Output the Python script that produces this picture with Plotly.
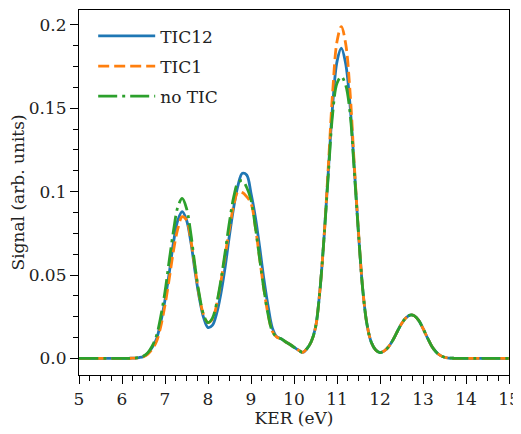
import plotly.graph_objects as go

# KER axis sample points (eV)
kev = [5.0, 6.0, 6.1, 6.2, 6.3, 6.4, 6.5, 6.6, 6.7, 6.8, 6.9,
       7.0, 7.1, 7.2, 7.3, 7.4, 7.5, 7.6, 7.7, 7.8, 7.9,
       8.0, 8.1, 8.2, 8.3, 8.4, 8.5, 8.6, 8.7, 8.8, 8.9,
       9.0, 9.1, 9.2, 9.3, 9.4, 9.5, 9.6, 9.7, 9.8, 9.9,
       10.0, 10.1, 10.2, 10.3, 10.4, 10.5, 10.6, 10.7, 10.8, 10.9,
       11.0, 11.1, 11.2, 11.3, 11.4, 11.5, 11.6, 11.7, 11.8, 11.9,
       12.0, 12.1, 12.2, 12.3, 12.4, 12.5, 12.6, 12.7, 12.8, 12.9,
       13.0, 13.1, 13.2, 13.3, 13.4, 13.5, 13.6, 13.7, 13.8, 14.0, 15.0]

tic12 = [0.0, 0.0, 0.0, 0.0001, 0.0002, 0.0005, 0.0012, 0.0030, 0.0065, 0.0115, 0.0215,
         0.035, 0.0515, 0.070, 0.083, 0.088, 0.083, 0.070, 0.052, 0.036, 0.0243,
         0.0185, 0.0198, 0.0269, 0.039, 0.055, 0.074, 0.091, 0.104, 0.111, 0.110,
         0.099, 0.085, 0.067, 0.0475, 0.031, 0.018, 0.013, 0.0118, 0.0100, 0.0085,
         0.0067, 0.0050, 0.0036, 0.0058, 0.0100, 0.0185, 0.040, 0.073, 0.113, 0.152,
         0.178, 0.186, 0.177, 0.153, 0.115, 0.075, 0.041, 0.020, 0.0095, 0.0050,
         0.0035, 0.0045, 0.0070, 0.0110, 0.0160, 0.0208, 0.0242, 0.0260, 0.0255, 0.0228,
         0.0180, 0.0125, 0.0075, 0.0040, 0.0018, 0.0007, 0.0002, 0.0001, 0.0, 0.0, 0.0]

tic1 = [0.0, 0.0, 0.0, 0.0001, 0.0002, 0.0004, 0.0010, 0.0025, 0.0055, 0.0100, 0.0190,
        0.032, 0.048, 0.065, 0.078, 0.085, 0.083, 0.071, 0.054, 0.037, 0.026,
        0.0215, 0.0235, 0.032, 0.046, 0.062, 0.078, 0.092, 0.100, 0.0995, 0.097,
        0.093, 0.079, 0.060, 0.0415, 0.026, 0.016, 0.0128, 0.0118, 0.0100, 0.0085,
        0.0067, 0.0050, 0.0036, 0.0058, 0.0100, 0.0185, 0.040, 0.073, 0.116, 0.160,
        0.190, 0.199, 0.189, 0.161, 0.117, 0.076, 0.041, 0.020, 0.0095, 0.0050,
        0.0035, 0.0045, 0.0070, 0.0110, 0.0160, 0.0208, 0.0242, 0.0260, 0.0255, 0.0228,
        0.0180, 0.0125, 0.0075, 0.0040, 0.0018, 0.0007, 0.0002, 0.0001, 0.0, 0.0, 0.0]

no_tic = [0.0, 0.0, 0.0, 0.0001, 0.0002, 0.0006, 0.0014, 0.0034, 0.0073, 0.0135, 0.025,
          0.040, 0.059, 0.077, 0.091, 0.096, 0.090, 0.075, 0.055, 0.038, 0.026,
          0.0215, 0.024, 0.033, 0.047, 0.064, 0.082, 0.097, 0.1055, 0.1065, 0.1025,
          0.095, 0.079, 0.060, 0.0415, 0.026, 0.016, 0.0128, 0.0118, 0.0100, 0.0085,
          0.0067, 0.0050, 0.0036, 0.0058, 0.0100, 0.0185, 0.040, 0.073, 0.111, 0.147,
          0.165, 0.169, 0.164, 0.148, 0.113, 0.075, 0.041, 0.020, 0.0095, 0.0050,
          0.0035, 0.0045, 0.0070, 0.0110, 0.0160, 0.0208, 0.0242, 0.0260, 0.0255, 0.0228,
          0.0180, 0.0125, 0.0075, 0.0040, 0.0018, 0.0007, 0.0002, 0.0001, 0.0, 0.0, 0.0]

x_ticks = [5, 6, 7, 8, 9, 10, 11, 12, 13, 14, 15]
y_ticks = [0.0, 0.05, 0.1, 0.15, 0.2]
y_tick_text = ["0.0", "0.05", "0.1", "0.15", "0.2"]

series = [
    ("TIC12", tic12, "#1f77b4", "solid"),
    ("TIC1", tic1, "#ff7f0e", "11px,5px"),
    ("no TIC", no_tic, "#2ca02c", "19px,5px,3px,5px"),
]

FONT = "DejaVu Serif"
TXT = "#222222"
FS = 17

fig = go.Figure()
for name, vals, color, dash in series:
    fig.add_trace(go.Scatter(
        x=kev, y=vals, mode="lines", name=name, legendgroup=name,
        line=dict(color=color, width=2.8, dash=dash, shape="spline", smoothing=1.0),
    ))

axis_common = dict(
    showline=True, linecolor="black", linewidth=1.2, mirror=True,
    showgrid=False, zeroline=False, automargin=False,
    ticks="outside", ticklen=8, tickwidth=1.2, tickcolor="black",
    tickfont=dict(family=FONT, size=FS, color=TXT),
)

# page body has an 8px default margin: figure is sized/offset to compensate
fig.update_layout(
    width=513, height=426,
    margin=dict(l=71, r=12, t=2, b=59),
    paper_bgcolor="white", plot_bgcolor="white",
    font=dict(family=FONT, size=FS, color=TXT),
    showlegend=True,
    legend=dict(x=0.033, y=0.977, xanchor="left", yanchor="top",
                bgcolor="rgba(0,0,0,0)", font=dict(family=FONT, size=FS, color=TXT),
                tracegroupgap=5, itemwidth=57),
    xaxis=dict(range=[5, 15], tickvals=x_ticks,
               minor=dict(ticks="outside", ticklen=5, dtick=0.25, tick0=5, tickcolor="black", tickwidth=1),
               title=dict(text="KER (eV)", standoff=2, font=dict(family=FONT, size=FS, color=TXT)),
               **axis_common),
    yaxis=dict(range=[-0.00995, 0.20895], tickvals=y_ticks, ticktext=y_tick_text,
               minor=dict(ticks="outside", ticklen=5, dtick=0.0125, tick0=0, tickcolor="black", tickwidth=1),
               title=dict(text="Signal (arb. units)", standoff=6, font=dict(family=FONT, size=FS, color=TXT)),
               **axis_common),
)

fig.write_html("out.html")
